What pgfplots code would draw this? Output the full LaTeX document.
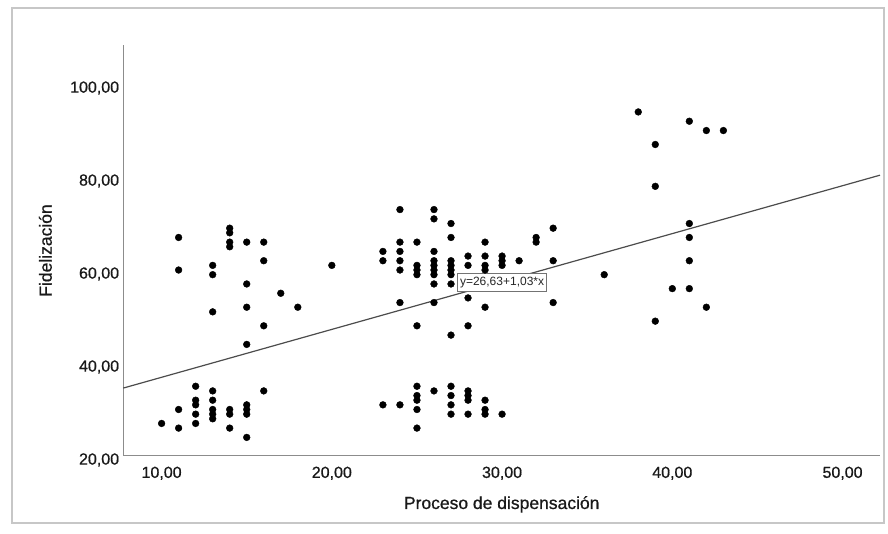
\documentclass[border=0pt]{standalone}
\usepackage{fontspec}
\setmainfont{Liberation Sans}
\newfontfamily\semib[FakeBold=0.7]{Liberation Sans}
\usepackage{pgfplots}
\pgfplotsset{compat=1.18}
\usepackage{pgfplotstable}
\pgfplotstableread{
x y
10 27
11 67
11 60
11 30
11 26
12 35
12 32
12 31
12 29
12 27
13 61
13 59
13 51
13 34
13 32
13 30
13 29
13 28
14 69
14 68
14 66
14 65
14 30
14 29
14 26
15 66
15 57
15 52
15 44
15 31
15 30
15 29
15 24
16 66
16 62
16 48
16 34
17 55
18 52
20 61
23 64
23 62
23 31
24 73
24 66
24 64
24 62
24 60
24 53
24 31
25 66
25 61
25 60
25 59
25 48
25 35
25 33
25 32
25 30
25 26
26 73
26 71
26 64
26 62
26 61
26 60
26 59
26 57
26 53
26 34
27 70
27 67
27 62
27 61
27 60
27 59
27 57
27 46
27 35
27 33
27 31
27 29
28 63
28 61
28 54
28 48
28 34
28 33
28 32
28 29
29 66
29 63
29 61
29 60
29 52
29 32
29 30
29 29
30 63
30 62
30 61
30 29
31 62
32 67
32 66
33 69
33 62
33 53
36 59
38 94
39 87
39 78
39 49
40 56
41 92
41 70
41 67
41 62
41 56
42 90
42 52
43 90
}\datatable
\begin{document}
\begin{tikzpicture}[x=1pt,y=1pt]
\useasboundingbox (-123.3,-78) rectangle (764.7,456);
\draw[black!22, line width=1.5pt] (-111.3,-67) rectangle (760.7,448);
\begin{axis}[
  at={(0,0)}, anchor=south west,
  scale only axis, width=756.7pt, height=411pt,
  xmin=7.75, xmax=52.2, ymin=20, ymax=108.4,
  axis x line*=bottom, axis y line*=left,
  axis line style={draw=black!45, line width=1pt, -},
  xtick={10,20,30,40,50},
  xticklabels={{10,00},{20,00},{30,00},{40,00},{50,00}},
  ytick={20,40,60,80,100},
  yticklabels={{20,00},{40,00},{60,00},{80,00},{100,00}},
  major tick length=0pt,
  tick label style={font=\semib\fontsize{16}{16}\selectfont, text=black!90},
  xticklabel style={anchor=north, inner sep=0pt, yshift=-10.5pt},
  yticklabel style={anchor=east, inner sep=0pt, xshift=-4pt, yshift=-4pt},
  clip=false,
]
\addplot[black!70, line width=1.2pt] coordinates {(7.75,34.61) (52.2,80.40)};
\addplot[only marks, mark=*, mark size=3.4pt, mark options={draw=black, fill=black}] table[x=x, y=y] {\datatable};
\node[draw=black!55, fill=white, text=black!85, font=\fontsize{12}{12}\selectfont, inner xsep=2.5pt, inner ysep=3.5pt, line width=0.8pt] at (axis cs:30.0,57.34) {y=26,63+1,03*x};
\end{axis}
\node[rotate=90, anchor=base, font=\semib\fontsize{17.5}{17.5}\selectfont, text=black!90] at (-71.6,205.5) {Fidelización};
\node[anchor=base, font=\semib\fontsize{17.5}{17.5}\selectfont, text=black!90] at (378.4,-53) {Proceso de dispensación};
\end{tikzpicture}
\end{document}
